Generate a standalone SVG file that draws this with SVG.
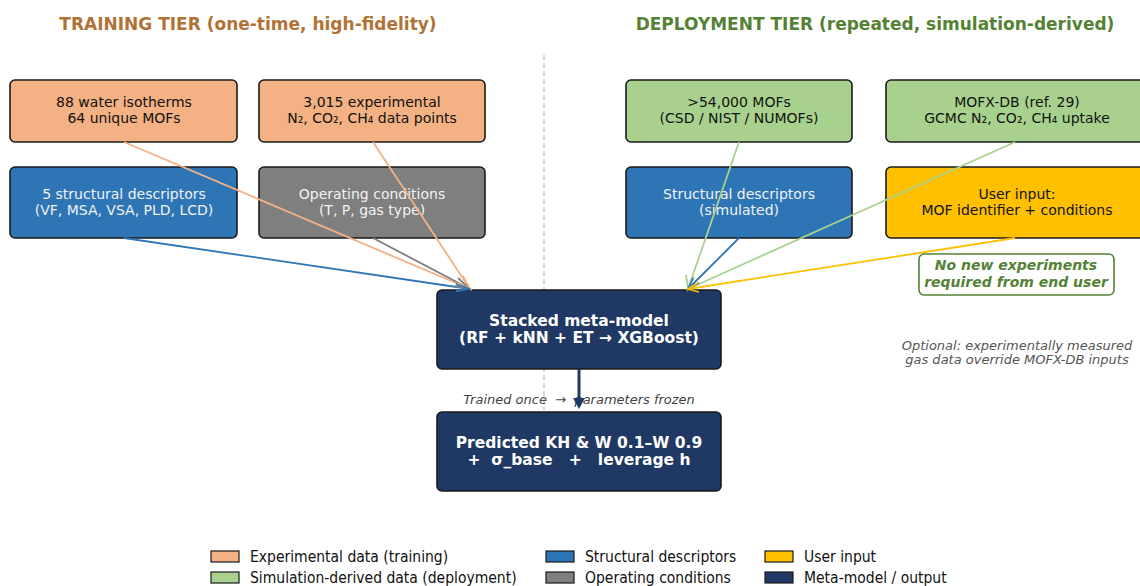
<svg xmlns="http://www.w3.org/2000/svg" width="1140" height="586" viewBox="0 0 1140 586">
<style>
text{font-family:"DejaVu Sans","Liberation Sans",sans-serif;white-space:pre;}
.box{stroke:#1a1a1a;stroke-width:1.6;}
.exp{fill:#f4b183;}
.sim{fill:#a9d18e;}
.str{fill:#2e75b6;}
.op{fill:#7f7f7f;}
.usr{fill:#ffc000;}
.meta{fill:#1f3864;}
.t{font-size:14px;text-anchor:middle;}
.dk{fill:#111;}
.wt{fill:#f2f2f2;}
.mt{font-size:15.5px;font-weight:bold;fill:#fff;text-anchor:middle;}
.title{font-size:17px;font-weight:bold;text-anchor:middle;}
.leg{font-family:"DejaVu Sans Condensed","DejaVu Sans",sans-serif;font-stretch:condensed;font-size:15.5px;fill:#111;}
.lp{stroke:#1a1a1a;stroke-width:1.2;}
.c{fill:none;stroke-width:1.8;}
</style>
<rect width="1140" height="586" fill="#fff"/>
<text class="title" x="248" y="30" fill="#b07335">TRAINING TIER (one-time, high-fidelity)</text>
<text class="title" x="875" y="30" fill="#548235">DEPLOYMENT TIER (repeated, simulation-derived)</text>
<line x1="544" y1="55" x2="544" y2="410" stroke="#bbb" stroke-width="1.2" stroke-dasharray="5,3"/>

<g id="n1"><rect class="box exp" x="10" y="80" width="227" height="62" rx="5"/>
<text class="t dk" x="124" y="107">88 water isotherms</text><text class="t dk" x="124" y="123">64 unique MOFs</text></g>
<g id="n2"><rect class="box exp" x="259" y="80" width="226" height="62" rx="5"/>
<text class="t dk" x="372" y="107">3,015 experimental</text><text class="t dk" x="372" y="123">N₂, CO₂, CH₄ data points</text></g>
<g id="n3"><rect class="box str" x="10" y="167" width="227" height="71" rx="5"/>
<text class="t wt" x="124" y="199">5 structural descriptors</text><text class="t wt" x="124" y="215">(VF, MSA, VSA, PLD, LCD)</text></g>
<g id="n4"><rect class="box op" x="259" y="167" width="226" height="71" rx="5"/>
<text class="t wt" x="372" y="199">Operating conditions</text><text class="t wt" x="372" y="215">(T, P, gas type)</text></g>
<g id="n5"><rect class="box sim" x="626" y="80" width="226" height="62" rx="5"/>
<text class="t dk" x="739" y="107">&gt;54,000 MOFs</text><text class="t dk" x="739" y="123">(CSD / NIST / NUMOFs)</text></g>
<g id="n6"><rect class="box sim" x="886" y="80" width="264" height="62" rx="5"/>
<text class="t dk" x="1017" y="107">MOFX-DB (ref. 29)</text><text class="t dk" x="1017" y="123">GCMC N₂, CO₂, CH₄ uptake</text></g>
<g id="n7"><rect class="box str" x="626" y="167" width="226" height="71" rx="5"/>
<text class="t wt" x="739" y="199">Structural descriptors</text><text class="t wt" x="739" y="215">(simulated)</text></g>
<g id="n8"><rect class="box usr" x="886" y="167" width="264" height="71" rx="5"/>
<text class="t dk" x="1017" y="199">User input:</text><text class="t dk" x="1017" y="215">MOF identifier + conditions</text></g>
<g id="meta"><rect class="box meta" x="437" y="290" width="284" height="79" rx="5"/>
<text class="mt" x="579" y="326">Stacked meta-model</text><text class="mt" x="579" y="343">(RF + kNN + ET → XGBoost)</text></g>
<g id="out"><rect class="box meta" x="437" y="412" width="284" height="79" rx="5"/>
<text class="mt" x="579" y="448">Predicted KH &amp; W 0.1–W 0.9</text><text class="mt" x="579" y="465">+  σ_base   +   leverage h</text></g>

<text x="579" y="404" font-size="13" font-style="italic" fill="#444" text-anchor="middle">Trained once  →  parameters frozen</text>

<g id="connectors">
<line class="c" x1="124" y1="142" x2="470" y2="289" stroke="#f4b183"/>
<line class="c" x1="373" y1="142" x2="470" y2="289" stroke="#f4b183"/>
<line class="c" x1="124" y1="238" x2="470" y2="289" stroke="#2e75b6"/>
<line class="c" x1="373" y1="238" x2="470" y2="289" stroke="#7f7f7f"/>
<path d="M458,278 L470,289 L455,286" fill="none" stroke="#7f7f7f" stroke-width="1.8"/>
<path d="M463,276 L470,289 L457,283" fill="none" stroke="#f4b183" stroke-width="1.8"/>
<path d="M456,284 L470,289 L456,291" fill="none" stroke="#2e75b6" stroke-width="1.8"/>
<line class="c" x1="739" y1="142" x2="688" y2="289" stroke="#a9d18e"/>
<line class="c" x1="1015" y1="142" x2="688" y2="289" stroke="#a9d18e"/>
<line class="c" x1="739" y1="238" x2="688" y2="289" stroke="#2e75b6"/>
<line class="c" x1="1015" y1="238" x2="688" y2="289" stroke="#ffc000"/>
<path d="M686,275 L688,289 L694,277" fill="none" stroke="#a9d18e" stroke-width="1.8"/>
<path d="M693,278 L688,289 L699,283" fill="none" stroke="#2e75b6" stroke-width="1.8"/>
<path d="M698,283 L688,289 L699,292" fill="none" stroke="#ffc000" stroke-width="1.8"/>
<line x1="579" y1="369" x2="579" y2="400" stroke="#1f3864" stroke-width="3"/>
<path d="M573,398 L579,409 L585,398 Z" fill="#1f3864"/>
</g>

<g id="note"><rect x="919" y="254" width="195" height="41" rx="5" fill="#fff" stroke="#548235" stroke-width="1.6"/>
<text x="1016" y="270" font-size="14" font-weight="bold" font-style="italic" fill="#548235" text-anchor="middle">No new experiments</text>
<text x="1016" y="287" font-size="14" font-weight="bold" font-style="italic" fill="#548235" text-anchor="middle">required from end user</text></g>
<text x="1017" y="350" font-size="13" font-style="italic" fill="#555" text-anchor="middle">Optional: experimentally measured</text>
<text x="1017" y="364" font-size="13" font-style="italic" fill="#555" text-anchor="middle">gas data override MOFX-DB inputs</text>

<g id="legend">
<rect class="lp exp" x="211" y="551" width="28" height="11"/><text class="leg" x="250" y="562">Experimental data (training)</text>
<rect class="lp sim" x="211" y="572" width="28" height="11"/><text class="leg" x="250" y="583">Simulation-derived data (deployment)</text>
<rect class="lp str" x="546" y="551" width="28" height="11"/><text class="leg" x="585" y="562">Structural descriptors</text>
<rect class="lp op" x="546" y="572" width="28" height="11"/><text class="leg" x="585" y="583">Operating conditions</text>
<rect class="lp usr" x="765" y="551" width="28" height="11"/><text class="leg" x="804" y="562">User input</text>
<rect class="lp meta" x="765" y="572" width="28" height="11"/><text class="leg" x="804" y="583">Meta-model / output</text>
</g>
</svg>
